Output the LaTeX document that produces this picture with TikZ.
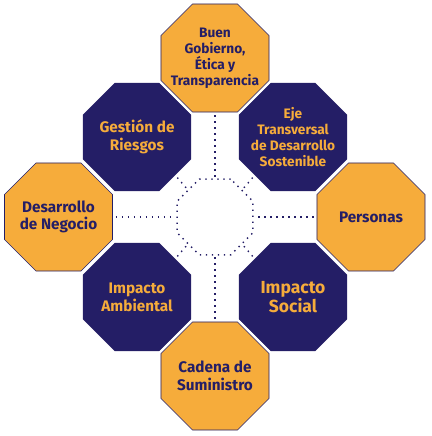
\documentclass[tikz,border=0pt]{standalone}
\usepackage{fontspec}
\setmainfont{Fira Sans}
\usetikzlibrary{shapes.geometric}
\definecolor{navy}{HTML}{241E66}
\definecolor{orng}{HTML}{F6AC3B}
\begin{document}
\begin{tikzpicture}[x=1pt,y=1pt]
    \tikzset{
    oct/.style={regular polygon,regular polygon sides=8,minimum size=117pt,inner sep=0pt},
    pil/.style={oct,fill=orng,draw=navy,line width=0.6pt,preaction={draw=white,line width=5pt}},
    eje/.style={oct,fill=navy},
    ring/.style={regular polygon,regular polygon sides=8,minimum size=82pt,inner sep=0pt,draw=navy,line width=1.4pt,dash pattern=on 1.4pt off 4.6pt},
    t1/.style={text=navy,align=center,font=\bfseries\fontsize{15.3}{17.7}\selectfont},
    t2/.style={text=orng,align=center,font=\bfseries\fontsize{15.3}{17.7}\selectfont},
    c1/.style={draw=navy,line width=1.4pt,dash pattern=on 1.4pt off 4.6pt,shorten <=3pt,shorten >=1pt},
    }
    \useasboundingbox (-215,-219) rectangle (216,217);

    \node[ring] (hub) at (0,0) {};

    \node[eje] (riesgos) at (-78,80) {};
    \node[eje] (transv) at (78,80) {};
    \node[eje] (ambiental) at (-78,-80) {};
    \node[eje] (social) at (78,-80) {};

    \node[pil] (gobierno) at (0,159) {};
    \node[pil] (negocio) at (-156.5,0) {};
    \node[pil] (personas) at (156,0) {};
    \node[pil] (cadena) at (0,-159) {};

    \node[t2] at (riesgos) {Gestión de\\Riesgos};
    \node[t2,font=\bfseries\fontsize{13.7}{16}\selectfont] at (transv) {Eje\\Transversal\\de Desarrollo\\Sostenible};
    \node[t2] at (ambiental) {Impacto\\Ambiental};
    \node[t2,font=\bfseries\fontsize{17.5}{17.5}\selectfont] at (social) {Impacto\\Social};
    \node[t1,font=\bfseries\fontsize{13.7}{16}\selectfont] at (gobierno) {Buen\\Gobierno,\\Ética y\\Transparencia};
    \node[t1] at (negocio) {Desarrollo\\de Negocio};
    \node[t1] at (personas) {Personas};
    \node[t1] at (cadena) {Cadena de\\Suministro};

    \draw[c1] (gobierno) edge (hub.north);
    \draw[c1] (cadena) edge (hub.south);
    \draw[c1] (negocio) edge (hub.west);
    \draw[c1] (personas) edge (hub.east);
    \draw[c1] (riesgos.south east) edge (hub.north west);
    \draw[c1] (transv.south west) edge (hub.north east);
    \draw[c1] (ambiental.north east) edge (hub.south west);
    \draw[c1] (social.north west) edge (hub.south east);
\end{tikzpicture}
\end{document}
